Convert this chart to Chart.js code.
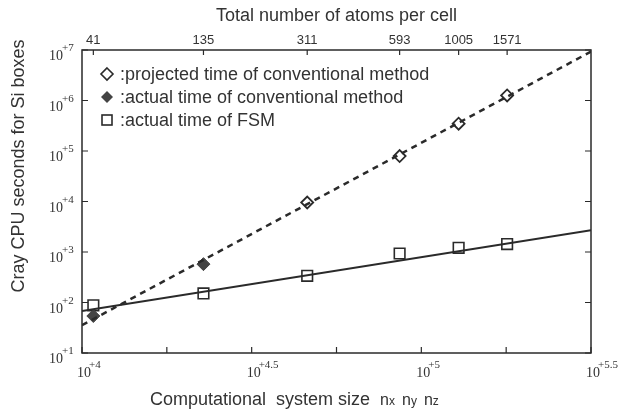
<!DOCTYPE html>
<html>
<head>
<meta charset="utf-8">
<script src="https://cdn.jsdelivr.net/npm/chart.js@4/dist/chart.umd.min.js"></script>
<style>
  html, body { margin: 0; padding: 0; background: #fff; }
</style>
</head>
<body>
<canvas id="timeChart" width="622" height="414"></canvas>
<script>
// system size nx*ny*nz for each cell, and the atoms it holds (top axis)
var sizes = [10800, 22800, 46100, 86300, 128800, 179000];
var atoms = [41, 135, 311, 593, 1005, 1571];

// CPU seconds
var fsmTime = [88, 151, 337, 933, 1210, 1435];
var convActualSizes = [10800, 22800];
var convActualTime = [54, 575];
var convProjSizes = [46100, 86300, 128800, 179000];
var convProjTime = [9550, 79400, 347000, 1260000];

// fitted lines, read at the two ends of the axis
var fitSizes = [10000, 316228];
var convFit = [35.5, 9300000];
var fsmFit = [67.6, 2690];

// tick labels (powers of ten)
var xTickExps = ['4', '4.5', '5', '5.5'];
var xMinorExps = [4, 4.25, 4.5, 4.75, 5, 5.25, 5.5];
var yTickExps = [1, 2, 3, 4, 5, 6, 7];

var legendLabels = [
  ':projected time of conventional method',
  ':actual time of conventional method',
  ':actual time of FSM'
];

function pts(xs, ys) {
  return xs.map(function (x, i) { return { x: x, y: ys[i] }; });
}

var ink = '#2a2a2a';
var textInk = '#333';

// draws the boxed axes, tick labels with exponents, titles and legend
var decor = {
  id: 'decor',
  afterDraw: function (chart) {
    var ctx = chart.ctx;
    var a = chart.chartArea;
    var xs = chart.scales.x, ys = chart.scales.y;
    ctx.save();
    ctx.strokeStyle = ink;
    ctx.lineWidth = 1.5;
    ctx.strokeRect(a.left, a.top, a.right - a.left, a.bottom - a.top);

    ctx.lineWidth = 1.2;
    // y ticks, both sides
    yTickExps.forEach(function (e) {
      var y = ys.getPixelForValue(Math.pow(10, e));
      ctx.beginPath();
      ctx.moveTo(a.left, y); ctx.lineTo(a.left + 6, y);
      ctx.moveTo(a.right, y); ctx.lineTo(a.right - 6, y);
      ctx.stroke();
    });
    // x ticks (bottom)
    xMinorExps.forEach(function (e) {
      var x = xs.getPixelForValue(Math.pow(10, e));
      ctx.beginPath();
      ctx.moveTo(x, a.bottom); ctx.lineTo(x, a.bottom - 6);
      ctx.stroke();
    });
    // top ticks at the measured cells
    sizes.forEach(function (s) {
      var x = xs.getPixelForValue(s);
      ctx.beginPath();
      ctx.moveTo(x, a.top); ctx.lineTo(x, a.top + 5);
      ctx.stroke();
    });

    ctx.fillStyle = textInk;
    ctx.textBaseline = 'alphabetic';

    // y labels
    yTickExps.forEach(function (e) {
      var y = ys.getPixelForValue(Math.pow(10, e));
      ctx.font = '14px "Liberation Serif"';
      ctx.textAlign = 'right';
      ctx.fillText('10', 63, y + 10);
      ctx.font = '11px "Liberation Serif"';
      ctx.textAlign = 'left';
      ctx.fillText('+' + e, 62, y + 1);
    });

    // x labels
    xTickExps.forEach(function (e) {
      var x = xs.getPixelForValue(Math.pow(10, parseFloat(e)));
      ctx.font = '14px "Liberation Serif"';
      ctx.textAlign = 'left';
      ctx.fillText('10', x - 5, a.bottom + 24);
      ctx.font = '11px "Liberation Serif"';
      ctx.fillText('+' + e, x + 7, a.bottom + 15);
    });

    // top axis labels
    ctx.font = '13px "Liberation Sans"';
    ctx.textAlign = 'center';
    sizes.forEach(function (s, i) {
      ctx.fillText(String(atoms[i]), xs.getPixelForValue(s), a.top - 6);
    });

    // titles
    ctx.font = '18px "Liberation Sans"';
    ctx.textAlign = 'center';
    ctx.fillText('Total number of atoms per cell', (a.left + a.right) / 2, 21);

    ctx.textAlign = 'left';
    var bx = 150, by = 405;
    var t = 'Computational  system size  ';
    ctx.fillText(t, bx, by);
    bx += ctx.measureText(t).width;
    [['n', 'x'], ['n', 'y'], ['n', 'z']].forEach(function (p) {
      ctx.font = '16px "Liberation Sans"';
      ctx.fillText(p[0], bx, by);
      bx += ctx.measureText(p[0]).width;
      ctx.font = '12px "Liberation Sans"';
      ctx.fillText(p[1], bx, by);
      bx += ctx.measureText(p[1]).width + 7;
    });

    ctx.save();
    ctx.translate(24, 166);
    ctx.rotate(-Math.PI / 2);
    ctx.font = '18px "Liberation Sans"';
    ctx.textAlign = 'center';
    ctx.fillText('Cray CPU seconds for Si boxes', 0, 0);
    ctx.restore();

    // legend
    var rows = [74, 97, 120];
    var mx = 107;
    ctx.lineWidth = 1.6;
    ctx.strokeStyle = ink;
    // open diamond
    ctx.beginPath();
    ctx.moveTo(mx, rows[0] - 6); ctx.lineTo(mx + 6, rows[0]);
    ctx.lineTo(mx, rows[0] + 6); ctx.lineTo(mx - 6, rows[0]); ctx.closePath();
    ctx.stroke();
    // filled diamond
    ctx.fillStyle = '#444';
    ctx.beginPath();
    ctx.moveTo(mx, rows[1] - 6); ctx.lineTo(mx + 6, rows[1]);
    ctx.lineTo(mx, rows[1] + 6); ctx.lineTo(mx - 6, rows[1]); ctx.closePath();
    ctx.fill();
    // square
    ctx.strokeRect(mx - 5, rows[2] - 5, 10, 10);

    ctx.fillStyle = textInk;
    ctx.font = '18px "Liberation Sans"';
    ctx.textAlign = 'left';
    legendLabels.forEach(function (l, i) {
      ctx.fillText(l, 120, rows[i] + 6);
    });
    ctx.restore();
  }
};

try {
  new Chart(document.getElementById('timeChart'), {
    type: 'scatter',
    data: {
      datasets: [{
        label: 'conventional fit',
        data: pts(fitSizes, convFit),
        showLine: true,
        borderColor: ink,
        borderWidth: 2.5,
        borderDash: [6, 5],
        pointRadius: 0
      }, {
        label: 'FSM fit',
        data: pts(fitSizes, fsmFit),
        showLine: true,
        borderColor: ink,
        borderWidth: 2,
        pointRadius: 0
      }, {
        label: legendLabels[0],
        data: pts(convProjSizes, convProjTime),
        pointStyle: 'rectRot',
        pointRadius: 6,
        pointBorderWidth: 1.8,
        pointBackgroundColor: '#fff',
        pointBorderColor: ink
      }, {
        label: legendLabels[1],
        data: pts(convActualSizes, convActualTime),
        pointStyle: 'rectRot',
        pointRadius: 6.5,
        pointBorderWidth: 1,
        pointBackgroundColor: '#444',
        pointBorderColor: '#444'
      }, {
        label: legendLabels[2],
        data: pts(sizes, fsmTime),
        pointStyle: 'rect',
        pointRadius: 7.5,
        pointBorderWidth: 1.6,
        pointBackgroundColor: 'rgba(255,255,255,0)',
        pointBorderColor: ink
      }]
    },
    options: {
      responsive: false,
      animation: false,
      layout: { padding: { left: 82, right: 31, top: 50, bottom: 61 } },
      plugins: {
        legend: { display: false },
        tooltip: { enabled: false }
      },
      scales: {
        x: { type: 'logarithmic', min: 10000, max: Math.pow(10, 5.5), display: false },
        y: { type: 'logarithmic', min: 10, max: 10000000, display: false }
      }
    },
    plugins: [decor]
  });
} catch (error) {
  console.error('An error occurred while initializing the chart:', error);
}
</script>
</body>
</html>
